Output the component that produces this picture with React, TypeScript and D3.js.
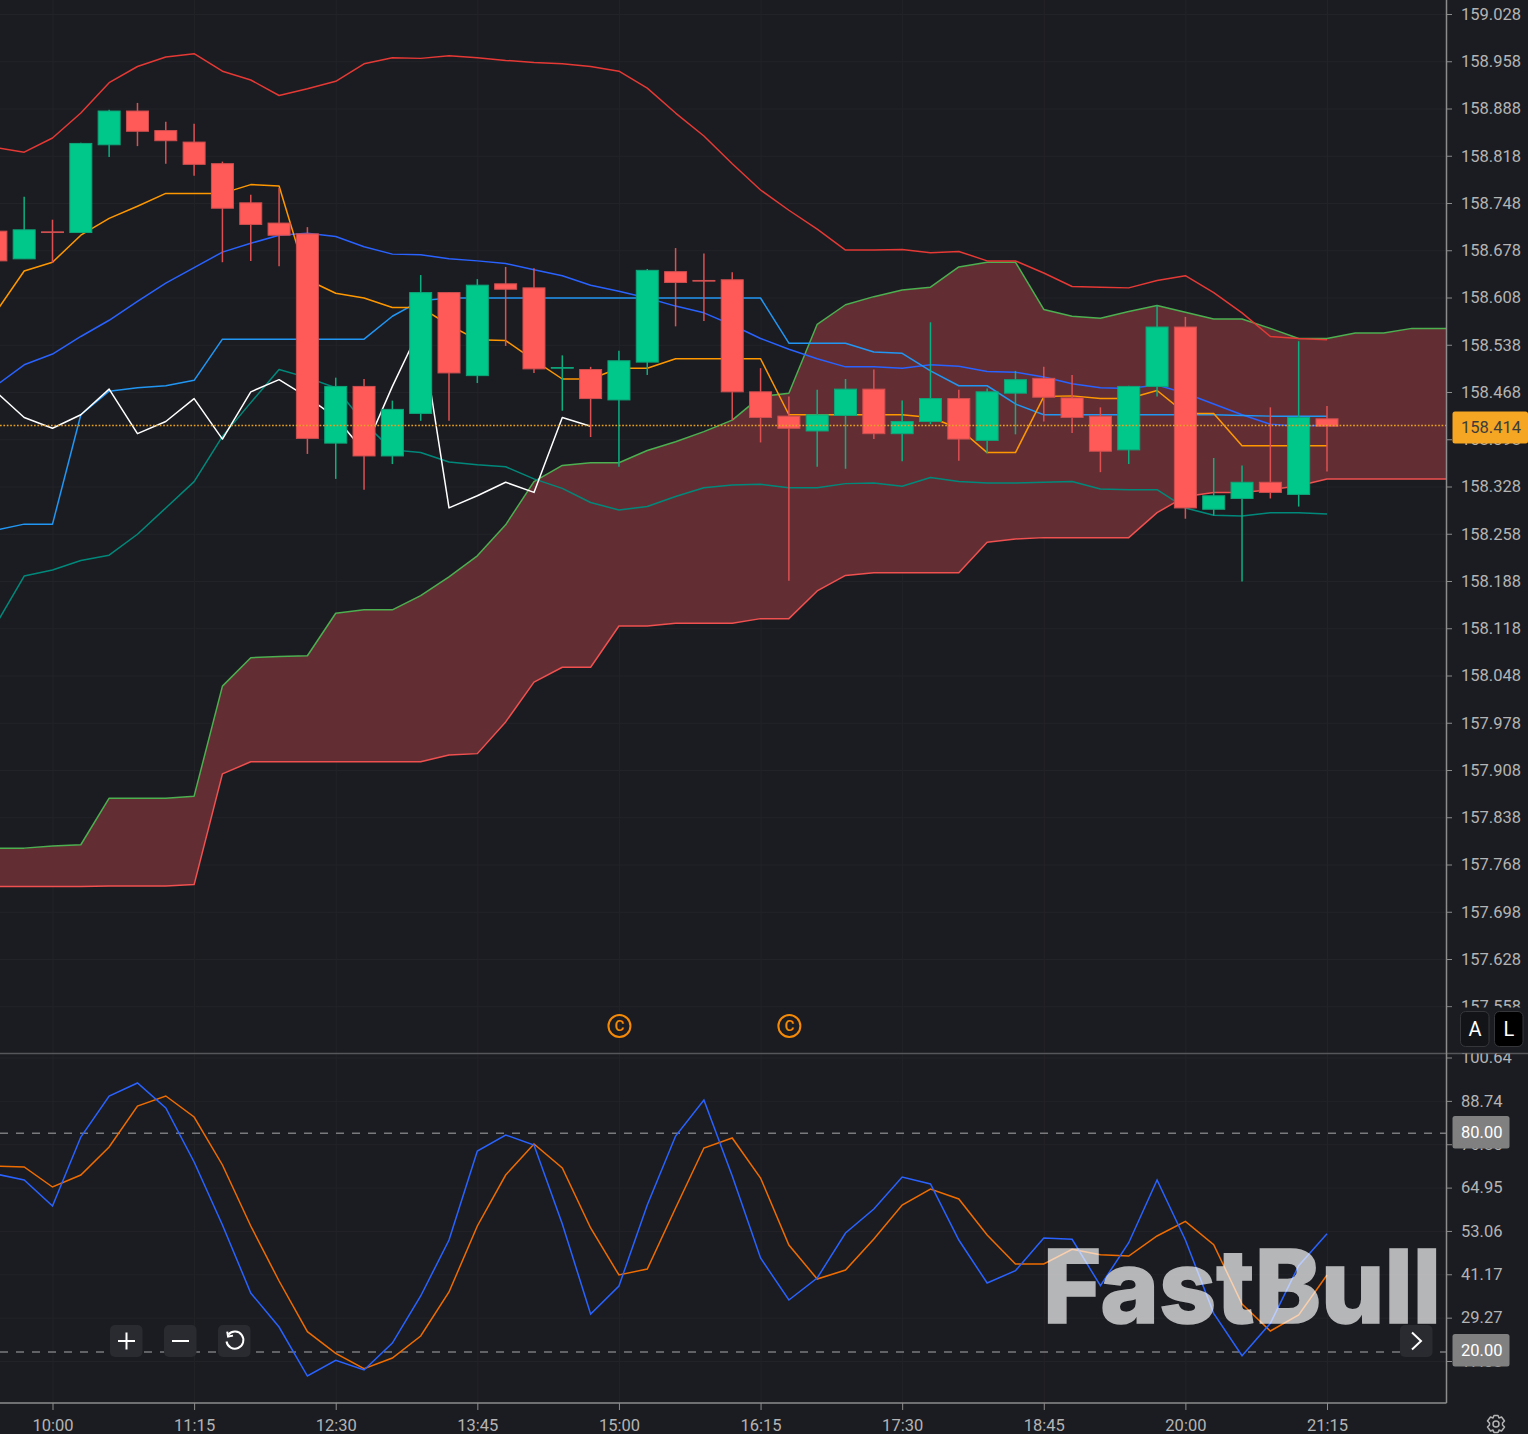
import { useEffect, useRef } from "react";
import * as d3 from "d3";

const WIDTH = 1528;
const HEIGHT = 1434;
const AXIS_X = 1446;
const PANE_SPLIT = 1053;
const TIME_AXIS_Y = 1403;

const firstBar = -2;

// candles, 15 min bars, first two are left of the 10:00 tick
const opens = [158.707, 158.666, 158.706, 158.705, 158.835, 158.885, 158.856, 158.839, 158.807, 158.749, 158.719, 158.703, 158.393, 158.477, 158.374, 158.437, 158.616, 158.493, 158.629, 158.623, 158.504, 158.502, 158.457, 158.513, 158.647, 158.634, 158.635, 158.469, 158.433, 158.411, 158.434, 158.473, 158.407, 158.425, 158.459, 158.397, 158.467, 158.489, 158.46, 158.433, 158.383, 158.477, 158.565, 158.295, 158.311, 158.335, 158.317, 158.429];
const highs = [158.707, 158.758, 158.724, 158.838, 158.887, 158.897, 158.869, 158.866, 158.81, 158.761, 158.771, 158.713, 158.49, 158.488, 158.456, 158.642, 158.617, 158.636, 158.654, 158.652, 158.523, 158.506, 158.53, 158.651, 158.682, 158.674, 158.646, 158.504, 158.462, 158.472, 158.488, 158.502, 158.456, 158.572, 158.472, 158.474, 158.5, 158.506, 158.494, 158.446, 158.478, 158.597, 158.58, 158.371, 158.36, 158.446, 158.544, 158.448];
const lows = [158.663, 158.666, 158.66, 158.705, 158.817, 158.833, 158.807, 158.789, 158.661, 158.663, 158.655, 158.377, 158.34, 158.324, 158.362, 158.426, 158.426, 158.482, 158.537, 158.497, 158.441, 158.402, 158.358, 158.494, 158.566, 158.574, 158.427, 158.394, 158.189, 158.358, 158.355, 158.399, 158.366, 158.421, 158.367, 158.378, 158.406, 158.425, 158.408, 158.35, 158.362, 158.462, 158.281, 158.286, 158.188, 158.311, 158.299, 158.351];
const closes = [158.663, 158.709, 158.705, 158.837, 158.885, 158.855, 158.841, 158.806, 158.741, 158.717, 158.701, 158.4, 158.477, 158.374, 158.443, 158.616, 158.497, 158.627, 158.621, 158.503, 158.505, 158.459, 158.515, 158.649, 158.631, 158.633, 158.469, 158.431, 158.415, 158.435, 158.473, 158.407, 158.425, 158.459, 158.399, 158.469, 158.487, 158.461, 158.431, 158.381, 158.477, 158.565, 158.297, 158.315, 158.335, 158.32, 158.431, 158.418];

// bollinger
const bollUpper = [158.831, 158.824, 158.845, 158.882, 158.927, 158.951, 158.965, 158.97, 158.944, 158.931, 158.908, 158.918, 158.929, 158.955, 158.964, 158.963, 158.967, 158.964, 158.96, 158.957, 158.955, 158.951, 158.944, 158.919, 158.882, 158.848, 158.807, 158.768, 158.738, 158.71, 158.679, 158.679, 158.68, 158.675, 158.677, 158.663, 158.663, 158.645, 158.625, 158.624, 158.623, 158.634, 158.641, 158.616, 158.586, 158.551, 158.548, 158.546];
const bollMiddle = [158.478, 158.509, 158.525, 158.551, 158.575, 158.603, 158.63, 158.653, 158.676, 158.689, 158.701, 158.704, 158.699, 158.684, 158.673, 158.672, 158.666, 158.663, 158.659, 158.65, 158.641, 158.627, 158.618, 158.608, 158.596, 158.586, 158.568, 158.548, 158.532, 158.518, 158.506, 158.506, 158.504, 158.509, 158.507, 158.499, 158.498, 158.491, 158.481, 158.475, 158.474, 158.479, 158.467, 158.451, 158.435, 158.421, 158.418, 158.42];
const bollLower = [158.124, 158.196, 158.205, 158.219, 158.227, 158.258, 158.297, 158.336, 158.403, 158.453, 158.502, 158.49, 158.475, 158.423, 158.383, 158.379, 158.365, 158.361, 158.358, 158.34, 158.326, 158.305, 158.294, 158.299, 158.314, 158.327, 158.331, 158.332, 158.327, 158.327, 158.333, 158.334, 158.329, 158.342, 158.336, 158.334, 158.334, 158.335, 158.336, 158.325, 158.324, 158.324, 158.297, 158.286, 158.285, 158.29, 158.29, 158.288];

// ichimoku
const tenkan = [158.587, 158.648, 158.661, 158.701, 158.726, 158.744, 158.763, 158.763, 158.763, 158.776, 158.774, 158.635, 158.615, 158.608, 158.594, 158.594, 158.568, 158.546, 158.545, 158.516, 158.488, 158.488, 158.504, 158.504, 158.518, 158.518, 158.518, 158.518, 158.435, 158.435, 158.435, 158.435, 158.435, 158.431, 158.415, 158.379, 158.379, 158.462, 158.463, 158.459, 158.459, 158.471, 158.437, 158.437, 158.389, 158.389, 158.389, 158.389];
const kijun = [158.264, 158.273, 158.273, 158.435, 158.47, 158.475, 158.478, 158.486, 158.547, 158.547, 158.547, 158.547, 158.547, 158.547, 158.581, 158.604, 158.608, 158.608, 158.608, 158.608, 158.608, 158.608, 158.608, 158.608, 158.608, 158.608, 158.608, 158.608, 158.541, 158.541, 158.541, 158.528, 158.526, 158.5, 158.478, 158.478, 158.451, 158.435, 158.435, 158.435, 158.435, 158.435, 158.435, 158.435, 158.434, 158.433, 158.433, 158.433];
const chikou = [158.469, 158.431, 158.415, 158.435, 158.473, 158.407, 158.425, 158.459, 158.399, 158.469, 158.487, 158.461, 158.431, 158.381, 158.477, 158.565, 158.297, 158.315, 158.335, 158.32, 158.431, 158.418];
const senkouA = [157.793, 157.793, 157.796, 157.798, 157.867, 157.867, 157.867, 157.87, 158.033, 158.075, 158.077, 158.078, 158.141, 158.146, 158.146, 158.167, 158.195, 158.226, 158.272, 158.336, 158.36, 158.364, 158.364, 158.382, 158.395, 158.41, 158.427, 158.462, 158.467, 158.569, 158.598, 158.61, 158.62, 158.624, 158.654, 158.661, 158.661, 158.591, 158.581, 158.578, 158.588, 158.597, 158.587, 158.577, 158.577, 158.563, 158.548, 158.548, 158.556, 158.556, 158.563, 158.563, 158.563];
const senkouB = [157.736, 157.736, 157.736, 157.736, 157.737, 157.737, 157.737, 157.739, 157.903, 157.921, 157.921, 157.921, 157.921, 157.921, 157.921, 157.921, 157.931, 157.933, 157.98, 158.039, 158.061, 158.061, 158.122, 158.122, 158.126, 158.126, 158.126, 158.133, 158.133, 158.174, 158.197, 158.201, 158.201, 158.201, 158.201, 158.246, 158.251, 158.253, 158.253, 158.253, 158.253, 158.29, 158.314, 158.32, 158.32, 158.324, 158.33, 158.34, 158.34, 158.34, 158.34, 158.34, 158.34];

// stochastic pane
const stochK = [68.82, 67.17, 60.04, 78.97, 90.21, 93.78, 86.92, 72.11, 54.83, 36.17, 26.84, 13.4, 17.71, 15.05, 22.45, 35.35, 50.71, 75.13, 79.52, 76.77, 55.1, 30.41, 38.09, 60.31, 79.24, 89.12, 68.27, 45.77, 34.25, 40.29, 52.63, 59.22, 67.99, 66.07, 50.71, 38.91, 42.29, 51.26, 50.9, 38.17, 49.97, 67.17, 50.71, 30.6, 18.97, 27.85, 43.66, 52.44];
const stochD = [71.01, 70.74, 65.25, 68.54, 76.22, 87.47, 90.21, 84.45, 71.29, 54.55, 39.46, 25.55, 19.62, 15.4, 18.34, 24.38, 36.45, 54.55, 68.54, 77.05, 70.46, 54.0, 41.11, 42.76, 59.49, 75.95, 78.69, 67.72, 49.34, 40.01, 42.48, 50.99, 60.31, 64.7, 61.96, 52.08, 44.13, 44.13, 48.16, 46.68, 46.32, 51.81, 55.84, 49.42, 33.15, 25.75, 30.14, 41.11];

const priceTicks = [159.028, 158.958, 158.888, 158.818, 158.748, 158.678, 158.608, 158.538, 158.468, 158.398, 158.328, 158.258, 158.188, 158.118, 158.048, 157.978, 157.908, 157.838, 157.768, 157.698, 157.628, 157.558];
const stochTicks = [100.64, 88.74, 76.85, 64.95, 53.06, 41.17, 29.27, 17.38];
const stochLevels = [80, 20];
const timeLabels = ["10:00", "11:15", "12:30", "13:45", "15:00", "16:15", "17:30", "18:45", "20:00", "21:15"];
const timeTickBars = [0, 5, 10, 15, 20, 25, 30, 35, 40, 45];
const copyrightBars = [20, 26];

const lastPriceLine = 158.419;
const lastPriceLabel = "158.414";

const BG = "#1b1c21";
const GRID = "#222328";
const AXIS_COLOR = "#8c8c8c";
const LABEL_COLOR = "#b4b4b4";
const UP = "#00c78a";
const DOWN = "#ff5a58";
const FONT = "Roboto, sans-serif";
const TICK_FONT_SIZE = 16.5;

const App = () => {
  const svgRef = useRef<SVGSVGElement | null>(null);

  useEffect(() => {
    if (!svgRef.current) return;
    const svg = d3.select(svgRef.current);
    svg.selectAll("*").remove();

    const x = d3.scaleLinear().domain([0, 45]).range([52.5, 1327]);
    const y = d3.scaleLinear().domain([157.628, 159.028]).range([959.5, 14.5]);
    const yStoch = d3.scaleLinear().domain([17.38, 100.64]).range([1361.5, 1058]);

    const defs = svg.append("defs");
    const addClip = (id: string, cx: number, cy: number, w: number, h: number) =>
      defs.append("clipPath").attr("id", id).append("rect").attr("x", cx).attr("y", cy).attr("width", w).attr("height", h);
    addClip("main-pane", 0, 0, AXIS_X, PANE_SPLIT);
    addClip("stoch-pane", 0, PANE_SPLIT, AXIS_X, TIME_AXIS_Y - PANE_SPLIT);
    // these two sit inside the translated axis groups
    addClip("price-axis", 0, 0, WIDTH - AXIS_X, 1008);
    addClip("stoch-axis", 0, PANE_SPLIT + 1, WIDTH - AXIS_X, TIME_AXIS_Y - PANE_SPLIT);

    svg.append("rect").attr("width", WIDTH).attr("height", HEIGHT).attr("fill", BG);

    const main = svg.append("g").attr("clip-path", "url(#main-pane)");
    const lower = svg.append("g").attr("clip-path", "url(#stoch-pane)");

    // Grid lines
    main.append("g")
      .selectAll("line")
      .data(priceTicks)
      .join("line")
      .attr("x1", 0)
      .attr("x2", AXIS_X)
      .attr("y1", (d) => y(d))
      .attr("y2", (d) => y(d))
      .attr("stroke", GRID);
    lower.append("g")
      .selectAll("line")
      .data(stochTicks)
      .join("line")
      .attr("x1", 0)
      .attr("x2", AXIS_X)
      .attr("y1", (d) => yStoch(d))
      .attr("y2", (d) => yStoch(d))
      .attr("stroke", GRID);
    [main, lower].forEach((pane) => {
      pane.append("g")
        .selectAll("line")
        .data(timeTickBars)
        .join("line")
        .attr("x1", (d) => x(d) + 0.5)
        .attr("x2", (d) => x(d) + 0.5)
        .attr("y1", 0)
        .attr("y2", TIME_AXIS_Y)
        .attr("stroke", GRID);
    });

    // Cloud
    const cloud = d3
      .area<number>()
      .x((_, i) => x(i + firstBar))
      .y0((_, i) => y(senkouB[i]))
      .y1((d) => y(d));
    main.append("path").attr("d", cloud(senkouA)).attr("fill", "#622e33");

    // Overlay lines
    const priceLine = d3
      .line<number>()
      .x((_, i) => x(i + firstBar))
      .y((d) => y(d));
    const overlays: [number[], string][] = [
      [senkouA, "#4caf50"],
      [senkouB, "#f0504f"],
      [bollUpper, "#e53935"],
      [bollMiddle, "#2962ff"],
      [bollLower, "#00897b"],
      [kijun, "#2196f3"],
      [tenkan, "#ff9800"],
      [chikou, "#ffffff"],
    ];
    overlays.forEach(([values, color]) => {
      main.append("path")
        .attr("d", priceLine(values))
        .attr("fill", "none")
        .attr("stroke", color)
        .attr("stroke-width", 1.5)
        .attr("stroke-linejoin", "round");
    });

    // Candles
    const bars = d3.range(opens.length);
    const isUp = (i: number) => closes[i] >= opens[i];
    const candles = main.append("g");
    candles
      .selectAll("line")
      .data(bars)
      .join("line")
      .attr("x1", (i) => x(i + firstBar))
      .attr("x2", (i) => x(i + firstBar))
      .attr("y1", (i) => y(highs[i]))
      .attr("y2", (i) => y(lows[i]))
      .attr("stroke", (i) => (isUp(i) ? "#0bb080" : "#dc5052"))
      .attr("stroke-width", 1.5);
    candles
      .selectAll("rect")
      .data(bars)
      .join("rect")
      .attr("x", (i) => x(i + firstBar) - 11)
      .attr("width", 22)
      .attr("y", (i) => y(Math.max(opens[i], closes[i])))
      .attr("height", (i) => Math.abs(y(opens[i]) - y(closes[i])))
      .attr("fill", (i) => (isUp(i) ? UP : DOWN))
      .attr("stroke", (i) => (isUp(i) ? "#0ea57a" : "#cf4f50"))
      .attr("stroke-width", 1);

    // Last price line
    main.append("line")
      .attr("x1", 0)
      .attr("x2", AXIS_X)
      .attr("y1", y(lastPriceLine))
      .attr("y2", y(lastPriceLine))
      .attr("stroke", "#e8a020")
      .attr("stroke-width", 1.5)
      .attr("stroke-dasharray", "1.7 1.7");

    // (c) markers
    const marks = main.append("g")
      .selectAll("g")
      .data(copyrightBars)
      .join("g")
      .attr("transform", (d) => `translate(${x(d) + 0.5}, 1026)`);
    marks.append("circle").attr("r", 11).attr("fill", "none").attr("stroke", "#f58a07").attr("stroke-width", 2);
    marks.append("text")
      .attr("text-anchor", "middle")
      .attr("dy", "0.36em")
      .attr("fill", "#f58a07")
      .attr("font-family", FONT)
      .attr("font-size", 15)
      .attr("font-weight", 500)
      .text("C");

    // Stochastic pane
    lower.append("g")
      .selectAll("line")
      .data(stochLevels)
      .join("line")
      .attr("x1", 0)
      .attr("x2", AXIS_X)
      .attr("y1", (d) => yStoch(d))
      .attr("y2", (d) => yStoch(d))
      .attr("stroke", "#7a7a7d")
      .attr("stroke-width", 1.4)
      .attr("stroke-dasharray", "8 8");
    const stochLine = d3
      .line<number>()
      .x((_, i) => x(i + firstBar))
      .y((d) => yStoch(d));
    lower.append("path").attr("d", stochLine(stochD)).attr("fill", "none").attr("stroke", "#ef6c00").attr("stroke-width", 1.5);
    lower.append("path").attr("d", stochLine(stochK)).attr("fill", "none").attr("stroke", "#2962ff").attr("stroke-width", 1.5);

    // Pane separator
    svg.append("line")
      .attr("x1", 0)
      .attr("x2", WIDTH)
      .attr("y1", PANE_SPLIT + 0.5)
      .attr("y2", PANE_SPLIT + 0.5)
      .attr("stroke", "#55565a")
      .attr("stroke-width", 1.5);

    // Axes, d3 adds its own half pixel to the ticks
    const styleAxis = (axis: d3.Selection<SVGGElement, unknown, null, undefined>) => {
      axis.selectAll("text").attr("fill", LABEL_COLOR).attr("font-size", TICK_FONT_SIZE).attr("font-family", FONT);
      axis.selectAll("line").attr("stroke", AXIS_COLOR);
      axis.select(".domain").remove();
    };
    svg.append("g")
      .attr("transform", `translate(${AXIS_X}, -0.5)`)
      .attr("clip-path", "url(#price-axis)")
      .call(d3.axisRight(y).tickValues(priceTicks).tickSize(6).tickPadding(9).tickFormat((v) => d3.format(".3f")(v as number)))
      .call(styleAxis);
    svg.append("g")
      .attr("transform", `translate(${AXIS_X}, -0.5)`)
      .attr("clip-path", "url(#stoch-axis)")
      .call(d3.axisRight(yStoch).tickValues(stochTicks).tickSize(6).tickPadding(9).tickFormat((v) => d3.format(".2f")(v as number)))
      .call(styleAxis);
    svg.append("g")
      .attr("transform", `translate(0, ${TIME_AXIS_Y})`)
      .call(d3.axisBottom(x).tickValues(timeTickBars).tickSize(7).tickPadding(9).tickFormat((_, i) => timeLabels[i]))
      .call(styleAxis);

    const rule = (x1: number, y1: number, x2: number, y2: number) =>
      svg.append("line").attr("x1", x1).attr("y1", y1).attr("x2", x2).attr("y2", y2).attr("stroke", AXIS_COLOR).attr("stroke-width", 1.5);
    rule(AXIS_X + 0.5, 0, AXIS_X + 0.5, TIME_AXIS_Y);
    rule(0, TIME_AXIS_Y, AXIS_X + 0.5, TIME_AXIS_Y);

    // Badges on the right axis
    const badge = (top: number, w: number, h: number, fill: string, color: string, label: string) => {
      svg.append("rect").attr("x", 1452.5).attr("y", top).attr("width", w).attr("height", h).attr("rx", 2.5).attr("fill", fill);
      svg.append("text")
        .attr("x", 1461)
        .attr("y", top + h / 2)
        .attr("dy", "0.36em")
        .attr("fill", color)
        .attr("font-family", FONT)
        .attr("font-size", TICK_FONT_SIZE)
        .text(label);
    };
    badge(411.5, 75.5, 32, "#f5a623", "#3c3c3c", lastPriceLabel);
    badge(1116, 57, 32.5, "#808080", "#ffffff", "80.00");
    badge(1334, 57, 32.5, "#808080", "#ffffff", "20.00");

    // A / L switches
    const switches: [string, number, string][] = [
      ["A", 1460.5, "#131418"],
      ["L", 1494.5, "#000000"],
    ];
    switches.forEach(([label, left, fill]) => {
      svg.append("rect").attr("x", left).attr("y", 1011.5).attr("width", 28.5).attr("height", 35).attr("rx", 5).attr("fill", fill).attr("stroke", "#35363a");
      svg.append("text")
        .attr("x", left + 14.5)
        .attr("y", 1029)
        .attr("dy", "0.36em")
        .attr("text-anchor", "middle")
        .attr("fill", "#ffffff")
        .attr("font-family", FONT)
        .attr("font-size", 20)
        .text(label);
    });

    // Watermark
    svg.append("g")
      .attr("opacity", 0.68)
      .append("text")
      .attr("x", 1043)
      .attr("y", 1323)
      .attr("textLength", 398)
      .attr("lengthAdjust", "spacingAndGlyphs")
      .attr("fill", "#ffffff")
      .attr("stroke", "#ffffff")
      .attr("stroke-width", 1.5)
      .attr("font-family", "Inter, sans-serif")
      .attr("font-size", 102)
      .attr("font-weight", 800)
      .text("FastBull");

    // Chart controls
    [110, 164, 218, 1400].forEach((left) => {
      svg.append("rect")
        .attr("x", left)
        .attr("y", 1325)
        .attr("width", 32.5)
        .attr("height", 32)
        .attr("rx", 5)
        .attr("fill", "#2a2b30");
    });
    const controls = svg.append("g").attr("fill", "none").attr("stroke", "#ffffff").attr("stroke-width", 2);
    controls.append("path").attr("d", "M118 1341H135M126.5 1332.5V1349.5");
    controls.append("path").attr("d", "M172 1341H189");
    controls.append("path").attr("d", "M228.5 1334.5A8.5 8.5 0 1 1 226.5 1341.5");
    controls.append("path").attr("d", "M228 1331.5V1336.5H233").attr("transform", "rotate(-10 228 1336)");
    controls.append("path").attr("d", "M1412 1332.5L1421 1341L1412 1349.5");

    // Settings gear
    const gear = svg.append("g").attr("transform", "translate(1496, 1424)").attr("fill", "none").attr("stroke", "#b4b4b4").attr("stroke-width", 1.5);
    gear.append("circle").attr("r", 3);
    gear.append("path").attr("d", "M-2 -8.5H2L3 -6L5.5 -7L8.5 -3L6.5 -1V1L8.5 3L5.5 7L3 6L2 8.5H-2L-3 6L-5.5 7L-8.5 3L-6.5 1V-1L-8.5 -3L-5.5 -7L-3 -6Z").attr("stroke-linejoin", "round");
  }, []);

  return (
    <svg
      ref={svgRef}
      width={WIDTH}
      height={HEIGHT}
      style={{ position: "fixed", left: 0, top: 0, display: "block" }}
    />
  );
};

export default App;
